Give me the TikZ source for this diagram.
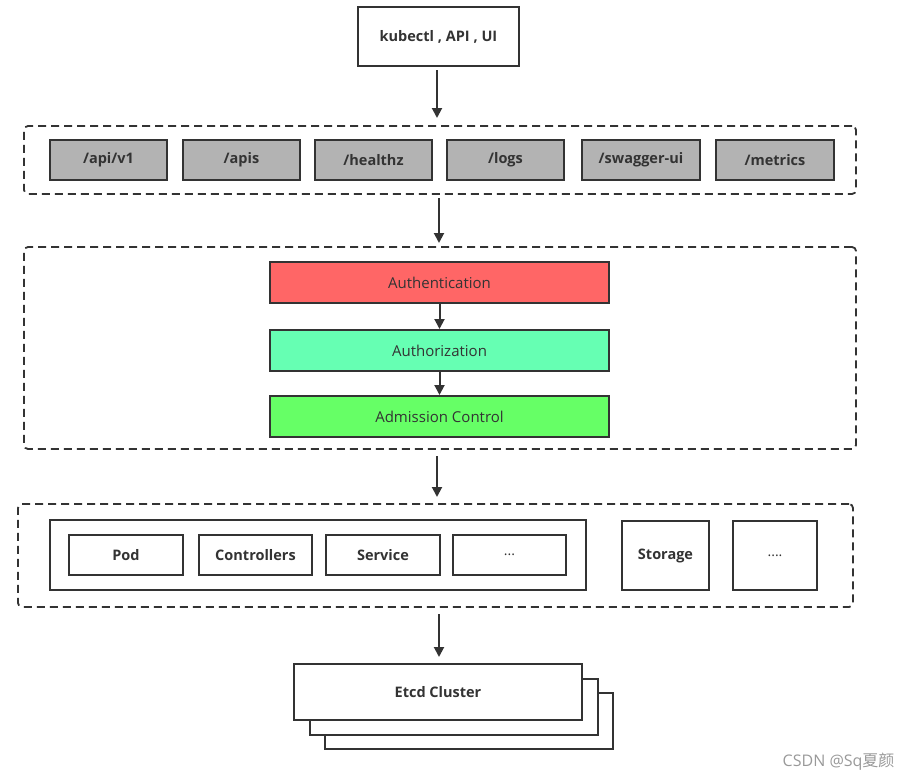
\documentclass[tikz,border=0pt]{standalone}
\usepackage{fontspec}
\setmainfont{Open Sans}
\newfontfamily\cjkfont{Noto Sans CJK SC}
\usetikzlibrary{arrows.meta,positioning}
\definecolor{ln}{HTML}{333333}
\definecolor{greyfill}{HTML}{B3B3B3}
\definecolor{redfill}{HTML}{FF6666}
\definecolor{cyanfill}{HTML}{66FFB3}
\definecolor{greenfill}{HTML}{66FF66}
\begin{document}
\begin{tikzpicture}[x=1pt,y=-1pt,
  box/.style={draw=ln,line width=2pt,fill=white,inner sep=0pt,font=\bfseries\fontsize{14.5}{17}\selectfont,text=ln},
  greybox/.style={box,fill=greyfill,line width=2.3pt},
  stage/.style={draw=ln,line width=2pt,inner sep=0pt,font=\fontsize{15}{17}\selectfont,text=ln},
  group/.style={draw=ln,line width=1.8pt,dashed,dash pattern=on 8pt off 5pt,rounded corners=4pt,inner sep=0pt},
  arr/.style={draw=ln,line width=2pt,-{Triangle[length=10pt,width=10pt]}}
]
\useasboundingbox (0,0) rectangle (913,779);
\newcommand{\bx}[6]{\node[#1,minimum width=#4-#2,minimum height=#5-#3] (#6) at ({(#2+#4)/2},{(#3+#5)/2})}
% top
\bx{box}{358}{7}{519}{66}{top} {kubectl , API , UI};
% group 1
\bx{group}{24}{126}{856}{194}{g1} {};
\bx{greybox}{50}{140}{167}{180}{p1} {/api/v1};
\bx{greybox}{183}{140}{300}{180}{p2} {/apis};
\bx{greybox}{315}{140}{432}{180}{p3} {/healthz};
\bx{greybox}{447}{140}{564}{180}{p4} {/logs};
\bx{greybox}{582}{140}{700}{180}{p5} {/swagger-ui};
\bx{greybox}{716}{140}{834}{180}{p6} {/metrics};
% group 2
\bx{group}{24}{247}{856}{449}{g2} {};
\bx{stage,fill=redfill}{270}{262}{609}{303}{authn} {Authentication};
\bx{stage,fill=cyanfill}{270}{330}{609}{371}{authz} {Authorization};
\bx{stage,fill=greenfill}{270}{396}{609}{437}{adm} {Admission Control};
% group 3
\bx{group}{18}{504}{853}{607}{g3} {};
\bx{box}{50}{520}{586}{590}{res} {};
\bx{box}{69}{535}{183}{575}{r1} {Pod};
\bx{box}{199}{535}{312}{575}{r2} {Controllers};
\bx{box}{326}{535}{440}{575}{r3} {Service};
\bx{box,font=\fontsize{14}{16}\selectfont}{453}{535}{566}{575}{r4} {...};
\bx{box}{622}{521}{709}{590}{st} {Storage};
\bx{box,font=\fontsize{14}{16}\selectfont}{733}{521}{817}{590}{more} {....};
% etcd
\bx{box}{325}{693}{613}{749}{e3} {};
\bx{box}{310}{679}{598}{735}{e2} {};
\bx{box}{294}{664}{582}{720}{e1} {Etcd Cluster};
% arrows
\coordinate (a1s) at (437,70); \coordinate (a1e) at (437,118);
\coordinate (a2s) at (439,198); \coordinate (a2e) at (439,243);
\coordinate (a3s) at (437,456); \coordinate (a3e) at (437,497);
\coordinate (a4s) at (439,614); \coordinate (a4e) at (439,657);
\draw[arr] (a1s) -- (a1e);
\draw[arr] (a2s) -- (a2e);
\draw[arr] (a3s) -- (a3e);
\draw[arr] (a4s) -- (a4e);
\draw[arr] (authn.south) -- (authz.north);
\draw[arr] (authz.south) -- (adm.north);
% watermark
\node[anchor=east,text=black!40,font=\fontsize{16}{18}\selectfont] (wm) at (898,762) {CSDN @Sq{\cjkfont 夏颜}};
\end{tikzpicture}
\end{document}
